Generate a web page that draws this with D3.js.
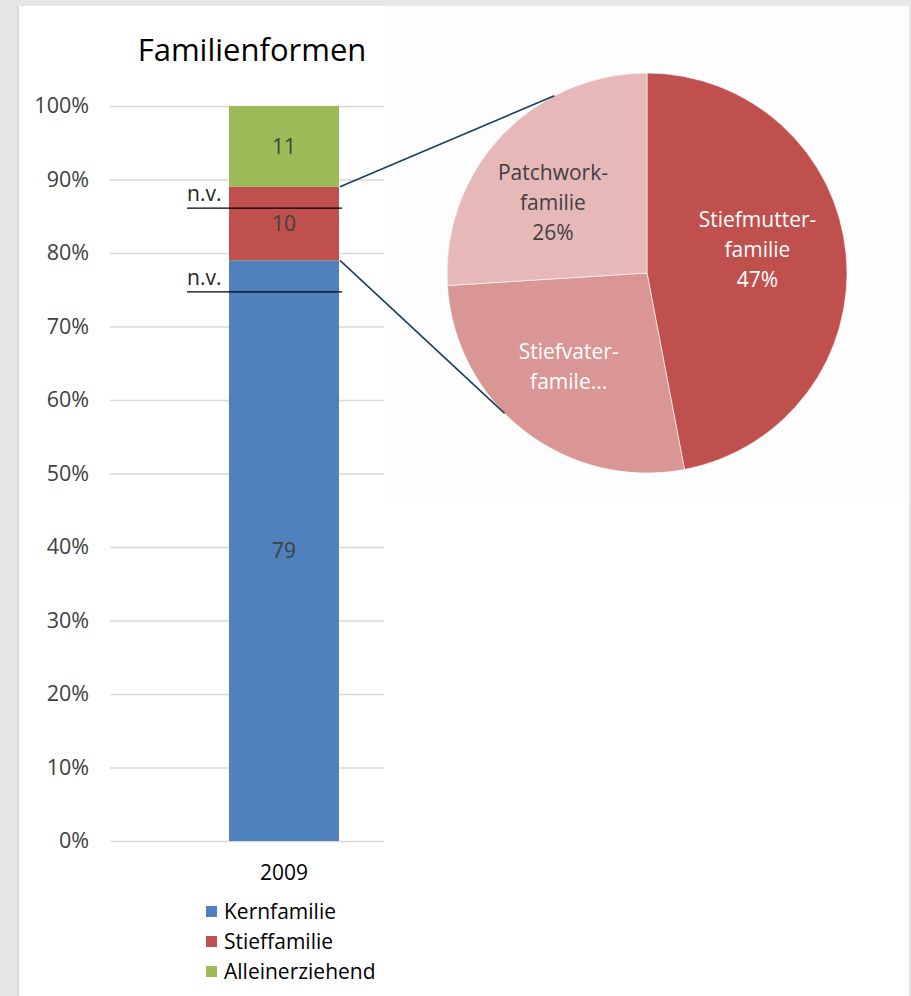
<!DOCTYPE html>
<html>
<head>
<meta charset="utf-8">
<script src="https://cdn.jsdelivr.net/npm/d3@7/dist/d3.min.js"></script>
<style>
  html, body { margin: 0; padding: 0; background: #e6e6e6; }
  svg { display: block; font-family: "Open Sans", sans-serif; }
</style>
</head>
<body>
<svg id="chart" width="911" height="996"></svg>
<script>
// data
var years = ["2009"];
var series = ["Kernfamilie", "Stieffamilie", "Alleinerziehend"];
var seriesValues = [79, 10, 11];
var seriesColors = ["#4f81bd", "#c0504d", "#9bbb59"];
var yTicks = [0, 10, 20, 30, 40, 50, 60, 70, 80, 90, 100];
var nvLevels = [86.1, 74.7];

var pieCats = [["Stiefmutter-", "familie", "47%"], ["Stiefvater-", "famile..."], ["Patchwork-", "familie", "26%"]];
var pieValues = [47, 27, 26];
var pieColors = ["#c0504d", "#d99694", "#e6b9b8"];
var pieTextColors = ["#ffffff", "#ffffff", "#404040"];
var connectorAngles = [332.4, 225.4]; // degrees where the callout lines touch the pie

var svg = d3.select("#chart");

// panels
svg.append("rect").attr("x", 17).attr("y", 6).attr("width", 2).attr("height", 990).attr("fill", "#dadada");
svg.append("rect").attr("x", 19).attr("y", 6).attr("width", 890).attr("height", 990).attr("fill", "#ffffff");
svg.append("rect").attr("x", 385).attr("y", 6).attr("width", 524).attr("height", 494).attr("fill", "#fdfdfd");

// bar chart
var y = d3.scaleLinear().domain([0, 100]).range([841, 106]);
var x = d3.scaleBand().domain(years).range([229, 339]).padding(0);

svg.append("text")
    .attr("x", 252).attr("y", 61)
    .attr("text-anchor", "middle")
    .attr("font-size", 31)
    .attr("fill", "#000")
    .text("Familienformen");

var axis = svg.append("g")
    .attr("transform", "translate(384,0)")
    .call(d3.axisLeft(y).tickValues(yTicks).tickFormat(function (d) { return d + "%"; })
        .tickSizeInner(274).tickSizeOuter(0).tickPadding(21));
axis.select(".domain").remove();
axis.selectAll(".tick line").attr("stroke", "#d9d9d9").attr("stroke-width", 1.3);
axis.selectAll(".tick text").attr("font-size", 21.5).attr("fill", "#404040")
    .attr("font-family", "Open Sans, sans-serif");

var stack = [];
var acc = 0;
seriesValues.forEach(function (v, i) {
    stack.push({ name: series[i], value: v, y0: acc, y1: acc + v, color: seriesColors[i] });
    acc += v;
});

svg.selectAll(".seg")
    .data(stack)
    .enter().append("rect")
    .attr("class", "seg")
    .attr("x", x(years[0]))
    .attr("width", x.bandwidth())
    .attr("y", function (d) { return y(d.y1); })
    .attr("height", function (d) { return y(d.y0) - y(d.y1); })
    .attr("fill", function (d) { return d.color; });

svg.selectAll(".seglabel")
    .data(stack)
    .enter().append("text")
    .attr("x", x(years[0]) + x.bandwidth() / 2)
    .attr("y", function (d) { return y((d.y0 + d.y1) / 2); })
    .attr("dy", "0.35em")
    .attr("text-anchor", "middle")
    .attr("font-size", 21)
    .attr("fill", "#404040")
    .text(function (d) { return d.value; });

// n.v. markers
nvLevels.forEach(function (lv) {
    svg.append("line")
        .attr("x1", 187).attr("x2", 342)
        .attr("y1", y(lv)).attr("y2", y(lv))
        .attr("stroke", "#000").attr("stroke-width", 1.3);
    svg.append("text")
        .attr("x", 187).attr("y", y(lv) - 7)
        .attr("font-size", 21).attr("fill", "#262626")
        .text("n.v.");
});

// x label
svg.append("text")
    .attr("x", x(years[0]) + x.bandwidth() / 2).attr("y", 880)
    .attr("text-anchor", "middle")
    .attr("font-size", 21).attr("fill", "#000")
    .text(years[0]);

// legend
var leg = svg.selectAll(".leg")
    .data(series)
    .enter().append("g")
    .attr("transform", function (d, i) { return "translate(206," + (912 + i * 30) + ")"; });
leg.append("rect").attr("x", 0).attr("y", -6).attr("width", 11).attr("height", 11)
    .attr("fill", function (d, i) { return seriesColors[i]; });
leg.append("text").attr("x", 18).attr("y", 0).attr("dy", "0.35em")
    .attr("font-size", 21).attr("fill", "#000")
    .text(function (d) { return d; });

// pie
var cx = 647, cy = 273, r = 200;
var pie = d3.pie().sort(null);
var arcs = pie(pieValues);
var arc = d3.arc().innerRadius(0).outerRadius(r);
var labelArc = d3.arc().innerRadius(118).outerRadius(118);
var nudge = [[-7, -12], [-6, 0], [-8, 10]];

var pg = svg.append("g").attr("transform", "translate(" + cx + "," + cy + ")");
pg.selectAll("path")
    .data(arcs)
    .enter().append("path")
    .attr("d", arc)
    .attr("fill", function (d, i) { return pieColors[i]; })
    .attr("stroke", "#ffffff").attr("stroke-width", 0.6);

pg.selectAll(".pl")
    .data(arcs)
    .enter().append("text")
    .attr("class", "pl")
    .attr("text-anchor", "middle")
    .attr("font-size", 21)
    .attr("fill", function (d, i) { return pieTextColors[i]; })
    .attr("transform", function (d, i) {
        var c = labelArc.centroid(d);
        return "translate(" + (c[0] + nudge[i][0]) + "," + (c[1] + nudge[i][1]) + ")";
    })
    .each(function (d, i) {
        var lines = pieCats[i];
        var t = d3.select(this);
        lines.forEach(function (l, j) {
            t.append("tspan").attr("x", 0)
                .attr("y", (j - (lines.length - 1) / 2) * 30)
                .attr("dy", "0.35em")
                .text(l);
        });
    });

// callout lines from bar to pie
var barRight = x(years[0]) + x.bandwidth();
var starts = [y(stack[1].y1), y(stack[1].y0)];
connectorAngles.forEach(function (a, i) {
    var rad = a * Math.PI / 180;
    svg.append("line")
        .attr("x1", barRight + 1).attr("y1", starts[i])
        .attr("x2", cx + r * Math.sin(rad)).attr("y2", cy - r * Math.cos(rad))
        .attr("stroke", "#17415f").attr("stroke-width", 1.6);
});
</script>
</body>
</html>
